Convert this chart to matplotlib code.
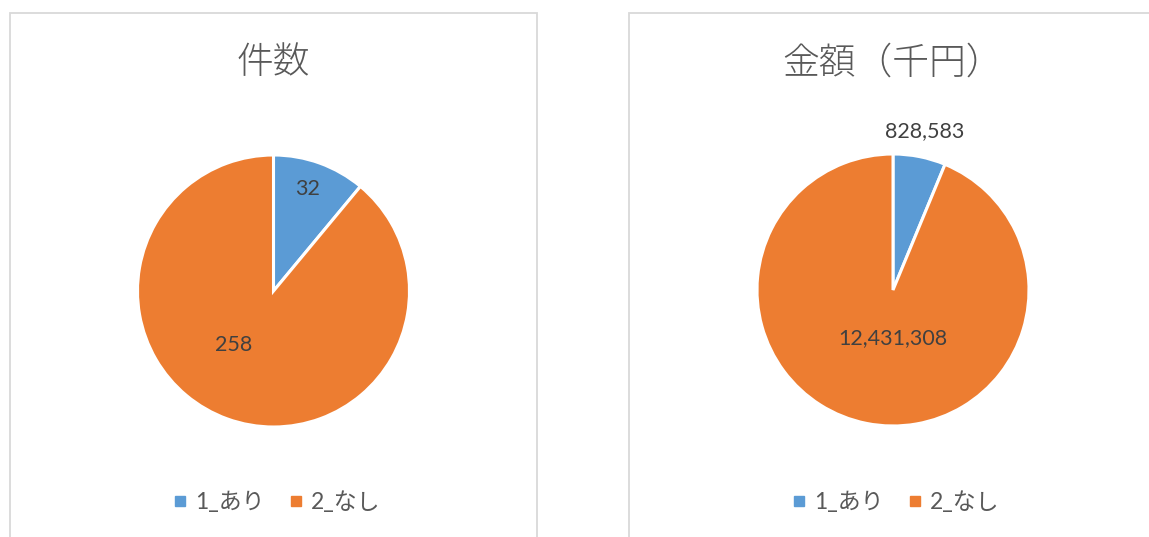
import matplotlib
matplotlib.use("Agg")
import matplotlib.pyplot as plt
from matplotlib.patches import Rectangle
from matplotlib.lines import Line2D
import numpy as np

plt.rcParams['font.family'] = ['Lato', 'Noto Sans CJK JP', 'DejaVu Sans']

categories = ["1_あり", "2_なし"]
count_values = [32, 258]
amount_values = [828583, 12431308]
titles = ["件数", "金額（千円）"]
label_texts_count = ["32", "258"]
label_texts_amount = ["828,583", "12,431,308"]

colors = ["#5B9BD5", "#ED7D31"]
text_color = "#595959"

W, H = 1149, 537
fig = plt.figure(figsize=(W / 100, H / 100), dpi=100)

# panel borders (pixel coords, top-left origin)
for x0, x1 in [(10, 537), (629, 1160)]:
    fig.patches.append(Rectangle((x0 / W, -0.1), (x1 - x0) / W, (H - 13) / H + 0.1,
                                 transform=fig.transFigure, fill=False,
                                 edgecolor="#D9D9D9", linewidth=1.3))

R = 136
panels = [
    dict(cx=273.5, cy=291, vals=count_values, texts=label_texts_count, title=titles[0],
         lab=[(1.6, 0.79), (-16.6, 0.49)], leg_x=278),
    dict(cx=893, cy=290, vals=amount_values, texts=label_texts_amount, title=titles[1],
         lab=[(0.0, 1.19), (11.25, 0.35)], leg_x=897),
]

for p in panels:
    cyb = H - p["cy"]
    ax = fig.add_axes([(p["cx"] - R) / W, (cyb - R) / H, 2 * R / W, 2 * R / H])
    wedges, _ = ax.pie(p["vals"], colors=colors, startangle=90, counterclock=False,
                       radius=1, wedgeprops=dict(edgecolor="white", linewidth=2.2))
    ax.set_xlim(-1, 1)
    ax.set_ylim(-1, 1)
    ax.set_aspect("auto")
    ax.axis("off")
    for w, t, (dang, rf) in zip(wedges, p["texts"], p["lab"]):
        mid = np.deg2rad((w.theta1 + w.theta2) / 2 + dang)
        ax.text(rf * np.cos(mid), rf * np.sin(mid), t, ha="center", va="center",
                fontsize=15.5, color="#404040", clip_on=False, family=['Lato', 'DejaVu Sans'])
    # title
    fig.text(p["cx"] / W, (H - 63) / H, p["title"], ha="center", va="center",
             fontsize=26.5, color=text_color, family=['Noto Sans CJK JP', 'DejaVu Sans'],
             fontweight="light")
    # legend
    handles = [Line2D([], [], marker="s", linestyle="none", markersize=6.5,
                      markerfacecolor=c, markeredgecolor=c) for c in colors]
    fig.legend(handles, categories, loc="center", bbox_to_anchor=(p["leg_x"] / W, (H - 502) / H),
               ncol=2, frameon=False, labelcolor=text_color,
               handlelength=0.4, handletextpad=0.45, columnspacing=1.2,
               prop=dict(family=['Lato', 'Noto Sans CJK JP'], size=16.5))

fig.savefig("out.png", dpi=100)
